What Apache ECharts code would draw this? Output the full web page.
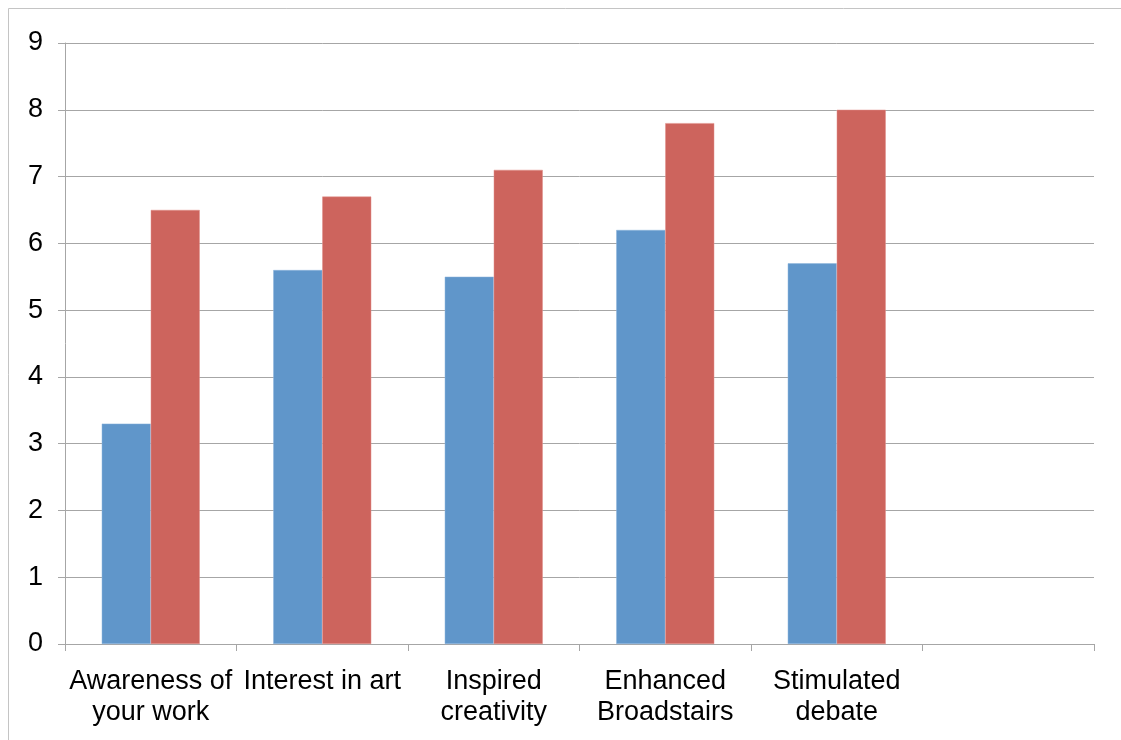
<!DOCTYPE html>
<html>
<head>
<meta charset="utf-8">
<script src="https://cdn.jsdelivr.net/npm/echarts@6/dist/echarts.min.js"></script>
<style>
  html, body { margin: 0; padding: 0; background: #fff; }
  #chart { width: 1121px; height: 740px; }
</style>
</head>
<body>
<div id="chart"></div>
<script>
// Survey categories (the sixth slot is left empty on purpose)
const categories = [
  'Awareness of\nyour work',
  'Interest in art',
  'Inspired\ncreativity',
  'Enhanced\nBroadstairs',
  'Stimulated\ndebate',
  ''
];
// Two rating series per category
const seriesBefore = [3.3, 5.6, 5.5, 6.2, 5.7, null];
const seriesAfter = [6.5, 6.7, 7.1, 7.8, 8.0, null];
// Value axis range
const yMin = 0;
const yMax = 9;
const yStep = 1;

const chart = echarts.init(document.getElementById('chart'), null, { renderer: 'canvas' });
const font = 'Liberation Sans, Arial, sans-serif';

chart.setOption({
  backgroundColor: '#ffffff',
  animation: false,
  graphic: [{
    type: 'rect',
    shape: { x: 8.5, y: 8.5, width: 1300, height: 1000 },
    style: { fill: 'none', stroke: '#c4c4c4', lineWidth: 1 },
    silent: true
  }],
  grid: { left: 65, right: 27, top: 43, bottom: 96, containLabel: false },
  xAxis: {
    type: 'category',
    data: categories,
    boundaryGap: true,
    axisLine: { show: true, lineStyle: { color: '#a6a6a6', width: 1 } },
    axisTick: { show: true, length: 7, inside: false, alignWithLabel: false, lineStyle: { color: '#a6a6a6' } },
    axisLabel: {
      interval: 0,
      margin: 22,
      color: '#000',
      fontFamily: font,
      fontSize: 27,
      lineHeight: 31
    },
    splitLine: { show: false }
  },
  yAxis: {
    type: 'value',
    min: yMin,
    max: yMax,
    interval: yStep,
    axisLine: { show: true, lineStyle: { color: '#a6a6a6', width: 1 } },
    axisTick: { show: true, length: 7, lineStyle: { color: '#a6a6a6' } },
    axisLabel: {
      margin: 22,
      color: '#000',
      fontFamily: font,
      fontSize: 27
    },
    splitLine: { show: true, lineStyle: { color: '#a6a6a6', width: 1 } }
  },
  series: [
    {
      type: 'bar',
      data: seriesBefore,
      barWidth: 49,
      barGap: '0%',
      itemStyle: { color: '#6096ca', borderColor: '#8db4dc', borderWidth: 0.5 }
    },
    {
      type: 'bar',
      data: seriesAfter,
      barWidth: 49,
      barGap: '0%',
      itemStyle: { color: '#cd645d', borderColor: '#e08f8a', borderWidth: 0.5 }
    }
  ]
});
</script>
</body>
</html>
